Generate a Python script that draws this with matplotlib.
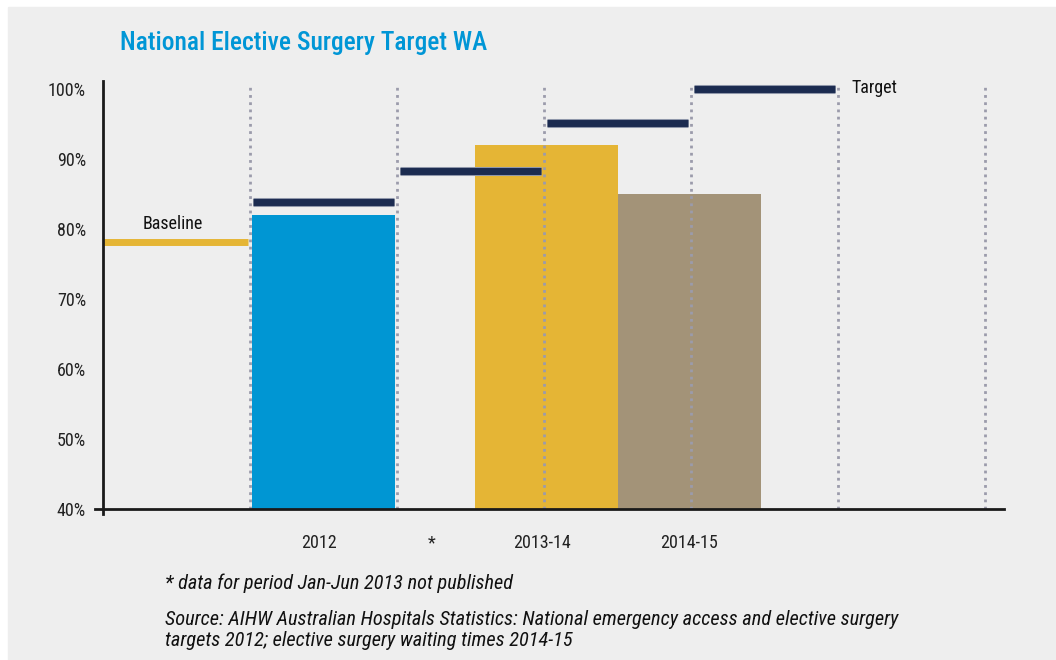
import matplotlib
matplotlib.use("Agg")
import matplotlib.pyplot as plt
import matplotlib.patheffects as pe
from matplotlib import font_manager as fm
from matplotlib.patches import Rectangle

# pick a narrow sans if one is around, the original uses Helvetica Condensed
installed = set(f.name for f in fm.fontManager.ttflist)
narrow = "DejaVu Sans"
for name in ["Roboto Condensed", "Liberation Sans Narrow", "Archivo Narrow",
             "PT Sans Narrow", "Arial Narrow", "Open Sans Condensed", "Roboto"]:
    if name in installed:
        narrow = name
        break
plt.rcParams["font.family"] = [narrow, "DejaVu Sans"]

# Data (percent of elective surgery patients seen within time)
periods = ["2012", "*", "2013-14", "2014-15"]
period_x = [1.47, 2.24, 2.99, 3.99]          # where the period labels sit
bar_x = [1.5, 3.02, 3.99]
bar_values = [82, 92, 85]
bar_colors = ["#0096d3", "#e5b535", "#a39378"]

baseline = 78.2
target_start = [1, 2, 3, 4]
target_values = [83.9, 88.3, 95.1, 100]
dividers = [1, 2, 3, 4, 5, 6]
yticks = [40, 50, 60, 70, 80, 90, 100]

fig = plt.figure(figsize=(10.56, 6.6), dpi=100)
fig.patches.append(Rectangle((8 / 1056, 0), 1 - 8 / 1056, 653 / 660,
                             transform=fig.transFigure, color="#eeeeee", zorder=-10))
ax = fig.add_axes([102.7 / 1056, 1 - 509 / 660, 901.3 / 1056, 428.3 / 660])
ax.set_facecolor("none")
ax.set_xlim(0, 6.13)
ax.set_ylim(40, 101.2)

ax.bar(bar_x, bar_values, width=0.97, color=bar_colors, zorder=2)

# baseline and targets
ax.hlines(baseline, 0, 0.99, color="#e5b535", lw=5, zorder=3)
for x0, v in zip(target_start, target_values):
    ax.hlines(v, x0 + 0.02, x0 + 0.98, color="#1b2b50", lw=5, zorder=4,
              path_effects=[pe.Stroke(linewidth=6.5, foreground="#8f97aa"), pe.Normal()])

ax.vlines(dividers, 40, 100.7, color="#9b9bab", lw=2, linestyles=(0, (1, 1.6)), zorder=5)

# axis lines drawn by hand so they cross at the corner
for s in ax.spines.values():
    s.set_visible(False)
ax.plot([-0.05, 6.13], [40, 40], color="#1a1a1a", lw=2, clip_on=False, zorder=6)
ax.plot([0, 0], [39.3, 101.2], color="#1a1a1a", lw=2, clip_on=False, zorder=6)

ax.set_yticks(yticks)
ax.set_yticklabels([f"{v}%" for v in yticks])
ax.set_xticks(period_x)
ax.set_xticklabels(periods)
ax.tick_params(axis="y", length=0, pad=12, labelsize=13, labelcolor="#222222")
ax.tick_params(axis="x", length=0, pad=18, labelsize=13, labelcolor="#222222")

ax.text(0.48, 80.7, "Baseline", ha="center", va="center", fontsize=13, color="#111111")
ax.text(5.09, 100.1, "Target", ha="left", va="center", fontsize=13, color="#111111")

fig.text(120 / 1056, 1 - 43 / 660, "National Elective Surgery Target WA",
         ha="left", va="center", fontsize=18.4, fontweight="medium", color="#0096d6")
fig.text(165 / 1056, 1 - 583 / 660, "* data for period Jan-Jun 2013 not published",
         ha="left", va="center", fontsize=14.6, style="italic", color="#111111")
fig.text(165 / 1056, 1 - 630 / 660,
         "Source: AIHW Australian Hospitals Statistics: National emergency access and elective surgery\n"
         "targets 2012; elective surgery waiting times 2014-15",
         ha="left", va="center", fontsize=14.7, style="italic", color="#111111", linespacing=1.15)

fig.savefig("out.png", dpi=100)
